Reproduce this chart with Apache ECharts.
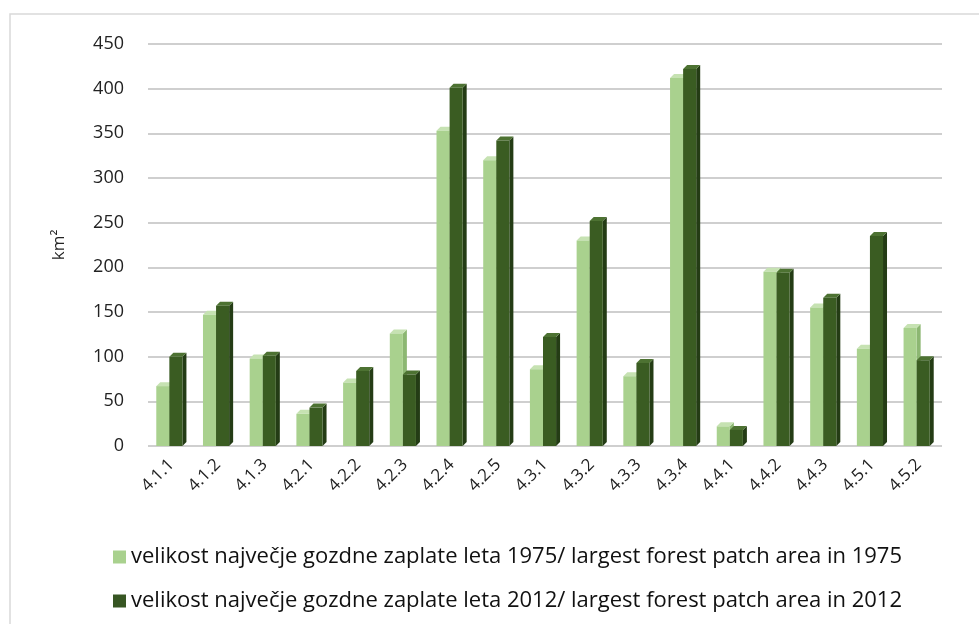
<!DOCTYPE html>
<html>
<head>
<meta charset="utf-8">
<script src="https://cdn.jsdelivr.net/npm/echarts@6/dist/echarts.min.js"></script>
<style>
  html, body { margin: 0; padding: 0; background: #fff; }
  #chart { width: 979px; height: 624px; }
</style>
</head>
<body>
<div id="chart"></div>
<script>
// regije (območja)
const categories = ['4.1.1', '4.1.2', '4.1.3', '4.2.1', '4.2.2', '4.2.3', '4.2.4', '4.2.5', '4.3.1',
  '4.3.2', '4.3.3', '4.3.4', '4.4.1', '4.4.2', '4.4.3', '4.5.1', '4.5.2']
const values1975 = [67, 147, 98, 36, 71, 126, 353, 320, 86, 230, 78, 412, 22, 195, 155, 109, 132]
const values2012 = [100, 157, 101, 43, 84, 80, 401, 342, 122, 252, 93, 422, 18, 194, 166, 235, 96]
const seriesNames = [
  'velikost največje gozdne zaplate leta 1975/ largest forest patch area in 1975',
  'velikost največje gozdne zaplate leta 2012/ largest forest patch area in 2012',
]

const chart = echarts.init(document.getElementById('chart'))

// "3D" stolpec: sprednja ploskev + stranica + vrh
const bar3d = (which, front, side, top) => (params, api) => {
  const idx = api.value(0)
  const v = api.value(1)
  const base = api.coord([idx, 0])
  const tip = api.coord([idx, v])
  const band = api.size([1, 0])[0]
  const w = band * 0.28
  const d = 4
  const x0 = which === 0 ? base[0] - w - 2 : base[0] - 2
  const y0 = tip[1]
  const y1 = base[1]
  return {
    type: 'group',
    children: [
      {
        type: 'polygon',
        shape: { points: [[x0 + w, y0], [x0 + w + d, y0 - d], [x0 + w + d, y1 - d], [x0 + w, y1]] },
        style: { fill: side },
      },
      {
        type: 'polygon',
        shape: { points: [[x0, y0], [x0 + d, y0 - d], [x0 + w + d, y0 - d], [x0 + w, y0]] },
        style: { fill: top },
      },
      {
        type: 'rect',
        shape: { x: x0, y: y0, width: w, height: y1 - y0 },
        style: { fill: front },
      },
    ],
  }
}

const option = {
  animation: false,
  graphic: [
    {
      type: 'rect',
      shape: { x: 10, y: 14, width: 1000, height: 700 },
      style: { fill: 'none', stroke: '#d9d9d9', lineWidth: 1.5 },
      silent: true,
    },
  ],
  grid: { left: 148, right: 37, top: 44, bottom: 178 },
  legend: {
    orient: 'vertical',
    left: 108,
    top: 541,
    itemGap: 22,
    itemWidth: 13,
    itemHeight: 13,
    icon: 'rect',
    textStyle: { fontFamily: 'Open Sans', fontSize: 22, color: '#111' },
    data: seriesNames,
  },
  xAxis: {
    type: 'category',
    data: categories,
    axisLine: { show: false },
    axisTick: { show: false },
    axisLabel: {
      interval: 0,
      rotate: 45,
      margin: 16,
      fontFamily: 'Open Sans',
      fontSize: 17,
      color: '#222',
    },
  },
  yAxis: {
    type: 'value',
    min: 0,
    max: 450,
    interval: 50,
    name: 'km²',
    nameLocation: 'middle',
    nameGap: 80,
    nameTextStyle: { fontFamily: 'Open Sans', fontSize: 17, color: '#222' },
    axisLine: { show: false },
    axisTick: { show: false },
    axisLabel: { margin: 24, fontFamily: 'Open Sans', fontSize: 18, color: '#222' },
    splitLine: { lineStyle: { color: '#cfcfcf', width: 2 } },
  },
  series: [
    {
      name: seriesNames[0],
      type: 'custom',
      itemStyle: { color: '#a9d18e' },
      renderItem: bar3d(0, '#a9d18e', '#8cb772', '#c6e2b2'),
      encode: { x: 0, y: 1 },
      data: values1975.map((v, i) => [i, v]),
    },
    {
      name: seriesNames[1],
      type: 'custom',
      itemStyle: { color: '#375623' },
      renderItem: bar3d(1, '#3a5c22', '#243c15', '#4d7232'),
      encode: { x: 0, y: 1 },
      data: values2012.map((v, i) => [i, v]),
    },
  ],
}
chart.setOption(option)
</script>
</body>
</html>
